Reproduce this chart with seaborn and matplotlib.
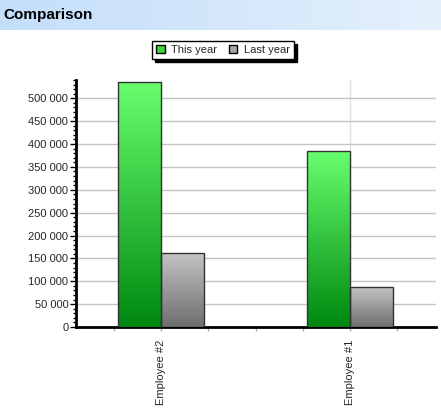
import matplotlib
matplotlib.use('Agg')
import matplotlib.pyplot as plt
import matplotlib.ticker as mticker
from matplotlib.patches import Patch
import seaborn as sns
import numpy as np
import pandas as pd

# Dati
employees = ['Employee #2', 'Employee #1']
series = ['This year', 'Last year']
this_year = [536000, 385000]
last_year = [161000, 87000]

df = pd.DataFrame({
    'employee': employees * 2,
    'serie': [series[0]] * 2 + [series[1]] * 2,
    'value': this_year + last_year,
})

sns.set_style('white')
plt.rcParams['font.family'] = ['Liberation Sans', 'DejaVu Sans']
plt.rcParams['font.size'] = 8

W, H = 441, 408
fig = plt.figure(figsize=(W / 100, H / 100), dpi=100)

# Intestazione con sfumatura azzurra
hdr = fig.add_axes([0, (H - 30) / H, 1, 30 / H])
grad = np.linspace(0, 1, 256)
c0 = np.array([196, 222, 250]) / 255
c1 = np.array([228, 240, 252]) / 255
img = c0[None, :] * (1 - grad[:, None]) + c1[None, :] * grad[:, None]
hdr.imshow(img[None, :, :], aspect='auto', extent=[0, 1, 0, 1])
hdr.set_xlim(0, 1)
hdr.set_ylim(0, 1)
hdr.axis('off')
hdr.text(3 / W, 0.5, 'Comparison', fontsize=11, fontweight='bold',
         va='center', ha='left', color='black')

# Grafico
ax = fig.add_axes([76 / W, (H - 327) / H, (436 - 76) / W, (327 - 80) / H])
sns.barplot(data=df, x='employee', y='value', hue='serie', order=employees,
            hue_order=series, width=0.455, palette=['#33cc33', '#a0a0a0'],
            edgecolor='#333333', linewidth=1, legend=False, ax=ax, zorder=3)

gradients = {
    0: (np.array([104, 255, 110]) / 255, np.array([0, 136, 16]) / 255),
    1: (np.array([196, 196, 196]) / 255, np.array([110, 110, 110]) / 255),
}
bars = [p for p in ax.patches if p.get_height() > 0]
for i, p in enumerate(bars):
    top_c, bot_c = gradients[i // len(employees)]
    t = np.linspace(0, 1, 256)[:, None]
    g = top_c[None, :] * (1 - t) + bot_c[None, :] * t
    x0, y0 = p.get_x(), p.get_y()
    im = ax.imshow(g[:, None, :], aspect='auto', zorder=3.5,
                   extent=[x0, x0 + p.get_width(), y0, y0 + p.get_height()])
    im.set_clip_path(p)
    p.set_facecolor('none')
    p.set_zorder(4)

ax.set_xlim(-0.45, 1.455)
ax.set_ylim(0, 540000)
ax.set_xlabel('')
ax.set_ylabel('')

ax.yaxis.set_major_locator(mticker.MultipleLocator(50000))
ax.yaxis.set_minor_locator(mticker.MultipleLocator(10000))
ax.yaxis.set_major_formatter(mticker.FuncFormatter(
    lambda v, pos: f'{int(v):,}'.replace(',', ' ')))
ax.xaxis.set_minor_locator(mticker.FixedLocator([-0.25, 0.25, 0.5, 0.75, 1.25]))

ax.tick_params(axis='y', which='major', left=True, length=4, width=1,
               color='black', pad=1.5, labelsize=8)
ax.tick_params(axis='y', which='minor', left=True, length=2, width=1, color='black')
ax.tick_params(axis='x', which='both', bottom=True, length=3, width=1,
               color='#b0b0b0', pad=6, labelsize=8)
plt.setp(ax.get_xticklabels(), rotation=90, va='top', ha='center')

ax.grid(axis='y', which='major', color='#c4c4c4', linewidth=1)
ax.grid(axis='x', which='major', color='#e2e2e2', linewidth=1)
ax.set_axisbelow(True)

for s in ['top', 'right']:
    ax.spines[s].set_visible(False)
for s in ['left', 'bottom']:
    ax.spines[s].set_color('black')
    ax.spines[s].set_linewidth(2)

# Legenda
handles = [Patch(facecolor='#3ed43e', edgecolor='black', label=series[0]),
           Patch(facecolor='#a8a8a8', edgecolor='black', label=series[1])]
leg = fig.legend(handles=handles, loc='center', bbox_to_anchor=(223 / W, (H - 50) / H),
                 ncol=2, frameon=True, shadow={'color': 'black', 'alpha': 1},
                 fancybox=False, fontsize=8, handlelength=0.8, handleheight=0.8,
                 handletextpad=0.6, columnspacing=1.0, borderpad=0.35,
                 borderaxespad=0)
leg.get_frame().set_edgecolor('black')
leg.get_frame().set_linewidth(1)

fig.savefig('out.png', dpi=100)
